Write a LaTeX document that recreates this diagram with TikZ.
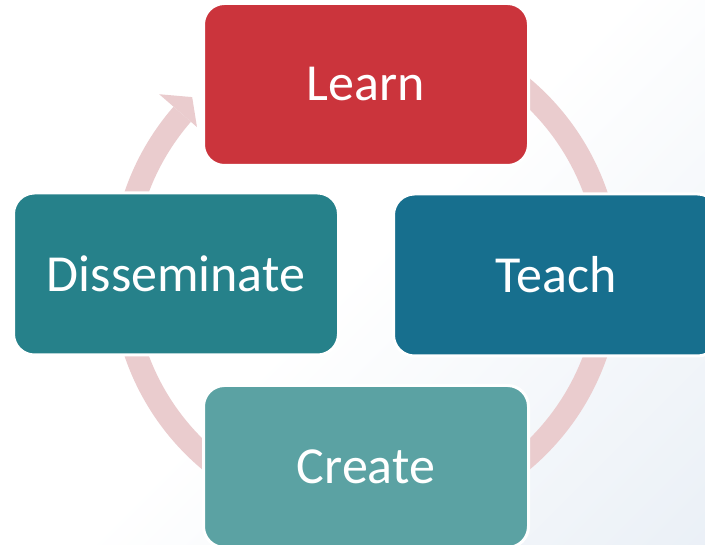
\documentclass[tikz,border=0pt]{standalone}
\usepackage{fontspec}
\setmainfont{Carlito}
\usepackage{tikz}
\usetikzlibrary{calc}

\definecolor{learnred}{HTML}{CB343C}
\definecolor{teachblue}{HTML}{176F8E}
\definecolor{dissteal}{HTML}{26818A}
\definecolor{createteal}{HTML}{5BA2A3}
\definecolor{ringpink}{HTML}{EACCCE}
\definecolor{bgblue}{HTML}{E2EAF3}
\pgfdeclarehorizontalshading{bgfade}{100bp}{color(0bp)=(white); color(50bp)=(white); color(100bp)=(bgblue)}

\begin{document}
\begin{tikzpicture}[x=1pt,y=1pt,
  box/.style={draw=white, line width=3pt, rounded corners=21pt, minimum width=325pt, minimum height=162pt,
    inner sep=0pt, text=white, font=\fontsize{52}{62}\selectfont},
  ring/.style={ringpink, line width=23pt}]
  \useasboundingbox (0,0) rectangle (705,545);
  \clip (0,0) rectangle (705,545);
  \shade[shading=bgfade, shading angle=-45] (0,0) rectangle (705,545);
  \coordinate (mid) at (366,271);
  % ring with its one arrow head, under the boxes
  \draw[ring] ($(mid)+(139:243.5)$) arc[start angle=139, end angle=410, radius=243.5];
  \fill[ringpink, shift={(mid)}] (139:224) -- (134.5:248) -- (139:274) -- cycle;
    \node[box, fill=learnred] (learn) at (366,460.5) {Learn};
    \node[box, fill=teachblue] (teach) at (556,270) {Teach};
    \node[box, fill=createteal] (create) at (366,78.5) {Create};
    \node[box, fill=dissteal] (diss) at (176,271) {Disseminate};
\end{tikzpicture}
\end{document}
